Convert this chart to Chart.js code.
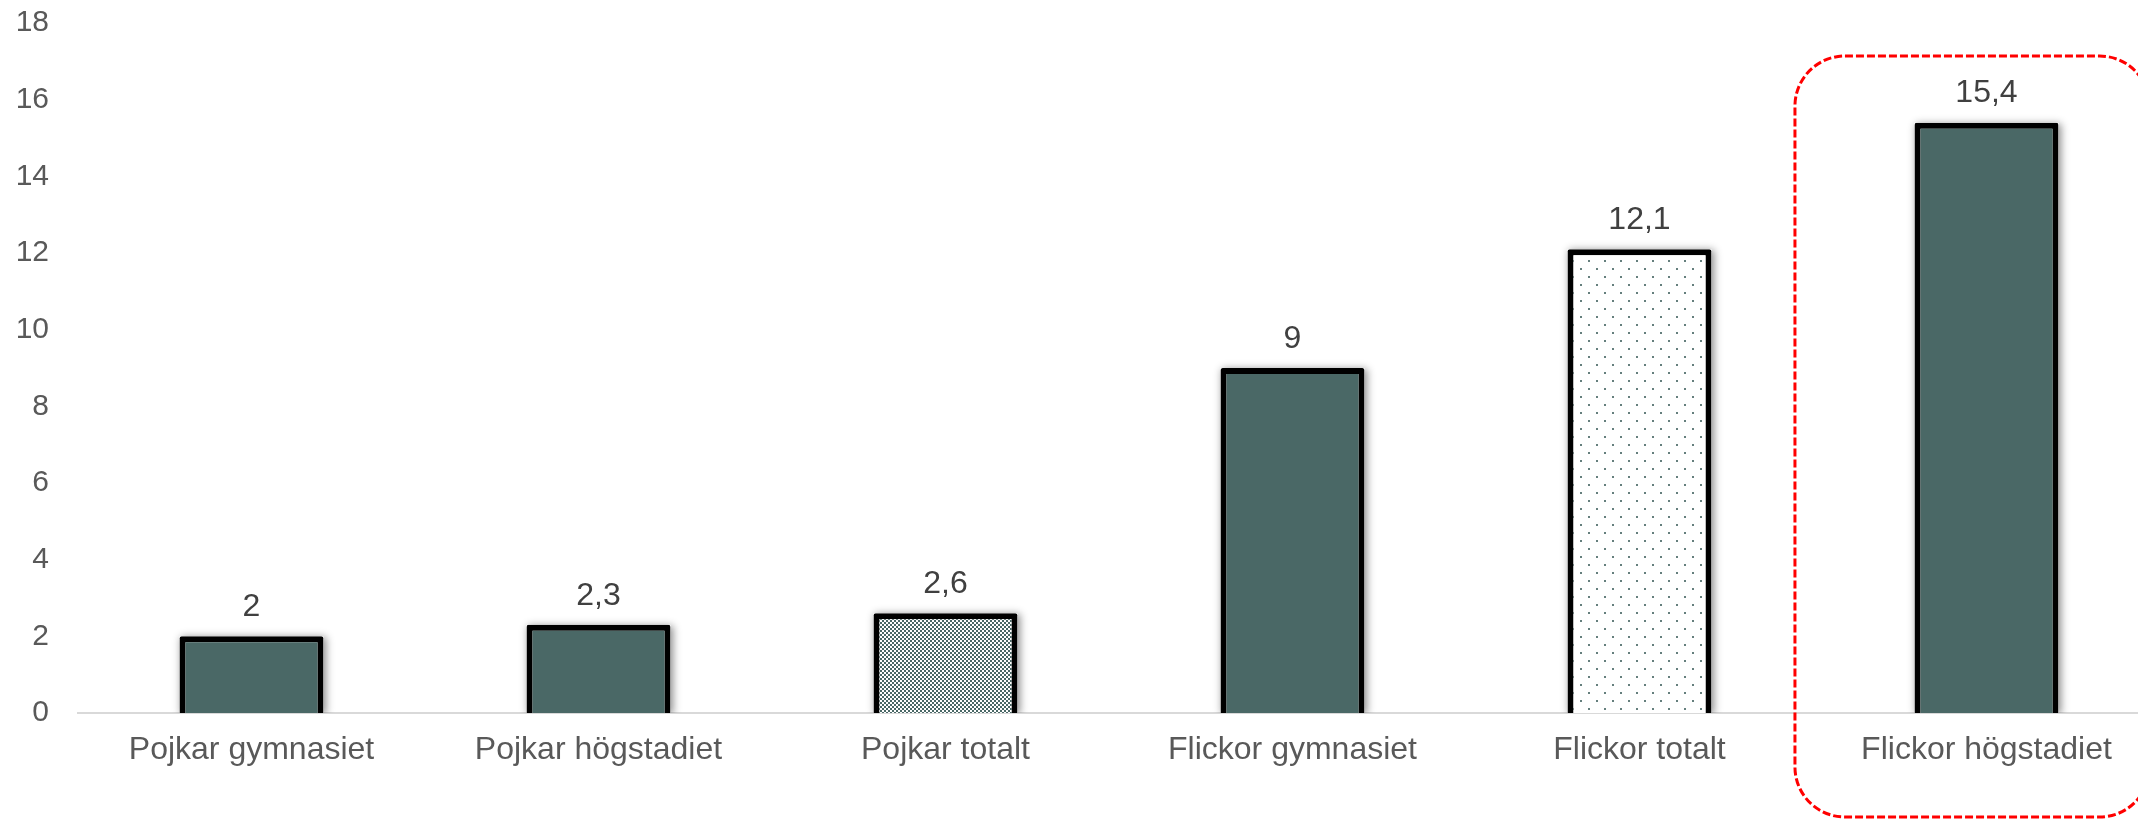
<!DOCTYPE html>
<html>
<head>
<meta charset="utf-8">
<script src="https://cdn.jsdelivr.net/npm/chart.js@4.4.1/dist/chart.umd.min.js"></script>
<style>
  html, body { margin: 0; padding: 0; background: #fff; overflow: hidden; }
  #wrap { width: 2160px; height: 819px; }
</style>
</head>
<body>
<div id="wrap"><canvas id="myChart"></canvas></div>
<script>
const categories = ['Pojkar gymnasiet', 'Pojkar högstadiet', 'Pojkar totalt', 'Flickor gymnasiet', 'Flickor totalt', 'Flickor högstadiet'];
const values = [2, 2.3, 2.6, 9, 12.1, 15.4];
const fillKinds = ['solid', 'solid', 'checker', 'solid', 'dots', 'solid'];
const yMin = 0;
const yMax = 18;
const yStep = 2;
const highlightIndex = 5;

const teal = '#4a6866';

// small checkerboard pattern (teal / white)
function checkerPattern() {
    let c = document.createElement('canvas');
    c.width = 4; c.height = 4;
    let g = c.getContext('2d');
    g.fillStyle = teal;
    g.fillRect(0, 0, 4, 4);
    g.fillStyle = '#ffffff';
    g.fillRect(0, 0, 2, 2);
    g.fillRect(2, 2, 2, 2);
    return g.createPattern(c, 'repeat');
}

// sparse dotted pattern on white
function dotPattern() {
    let c = document.createElement('canvas');
    c.width = 16; c.height = 16;
    let g = c.getContext('2d');
    g.fillStyle = '#ffffff';
    g.fillRect(0, 0, 16, 16);
    g.fillStyle = 'rgba(74,104,102,0.85)';
    g.fillRect(4, 4, 2, 2);
    g.fillRect(12, 12, 2, 2);
    return g.createPattern(c, 'repeat');
}

function fillFor(kind) {
    if (kind === 'checker') return checkerPattern();
    if (kind === 'dots') return dotPattern();
    return teal;
}

const fmt = v => String(v).replace('.', ',');

const barShadow = {
    id: 'barShadow',
    beforeDatasetsDraw(chart) {
        const ctx = chart.ctx;
        const area = chart.chartArea;
        ctx.save();
        ctx.beginPath();
        ctx.rect(area.left, 0, area.right - area.left, area.bottom);
        ctx.clip();
        chart.getDatasetMeta(0).data.forEach(bar => {
            ctx.shadowColor = 'rgba(0,0,0,0.45)';
            ctx.shadowBlur = 8;
            ctx.shadowOffsetX = 2;
            ctx.shadowOffsetY = 1;
            ctx.fillStyle = '#ffffff';
            ctx.fillRect(bar.x - bar.width / 2, bar.y, bar.width, bar.base - bar.y);
        });
        ctx.restore();
    }
};

const valueLabels = {
    id: 'valueLabels',
    afterDatasetsDraw(chart) {
        const ctx = chart.ctx;
        ctx.save();
        ctx.font = '32px "Liberation Sans", Arial, sans-serif';
        ctx.fillStyle = '#404040';
        ctx.textAlign = 'center';
        ctx.textBaseline = 'middle';
        chart.getDatasetMeta(0).data.forEach((bar, i) => {
            ctx.fillText(fmt(values[i]), bar.x, bar.y - 29);
        });
        ctx.restore();
    }
};

const highlightBox = {
    id: 'highlightBox',
    afterDraw(chart) {
        const xs = chart.scales.x;
        const area = chart.chartArea;
        const c = xs.getPixelForValue(highlightIndex);
        const cw = xs.getPixelForValue(1) - xs.getPixelForValue(0);
        const left = c - 0.552 * cw;
        const right = c + 0.47 * cw;
        const top = area.top + 33;
        const bottom = chart.height - 2;
        const ctx = chart.ctx;
        ctx.save();
        ctx.strokeStyle = '#ff0000';
        ctx.lineWidth = 3;
        ctx.setLineDash([8, 3]);
        ctx.beginPath();
        ctx.roundRect(left, top, right - left, bottom - top, 50);
        ctx.stroke();
        ctx.restore();
    }
};

Chart.defaults.font.family = '"Liberation Sans", Arial, sans-serif';

let ctx = document.getElementById('myChart').getContext('2d');

let myChart = new Chart(ctx, {
    type: 'bar',
    data: {
        labels: categories,
        datasets: [{
            data: values,
            backgroundColor: fillKinds.map(fillFor),
            borderColor: '#000000',
            borderWidth: 6,
            borderRadius: 2,
            borderSkipped: 'start',
            barPercentage: 0.415,
            categoryPercentage: 1
        }]
    },
    options: {
        responsive: true,
        maintainAspectRatio: false,
        animation: false,
        layout: { padding: { top: 23, right: 0, bottom: 0, left: 0 } },
        plugins: {
            legend: { display: false },
            tooltip: { enabled: false }
        },
        scales: {
            x: {
                grid: { display: false, drawTicks: false },
                border: { display: true, color: '#d9d9d9', width: 2 },
                ticks: { color: '#595959', font: { size: 32 }, padding: 18, maxRotation: 0, autoSkip: false },
                afterFit: function(scale) { scale.height = 106; }
            },
            y: {
                min: yMin,
                max: yMax,
                grid: { display: false, drawTicks: false },
                border: { display: false },
                ticks: { stepSize: yStep, color: '#595959', font: { size: 30 }, padding: 29 },
                afterFit: function(scale) {
                    scale.width = 78;
                    scale.paddingTop = 0;
                    scale.paddingBottom = 0;
                }
            }
        }
    },
    plugins: [barShadow, valueLabels, highlightBox]
});
</script>
</body>
</html>
